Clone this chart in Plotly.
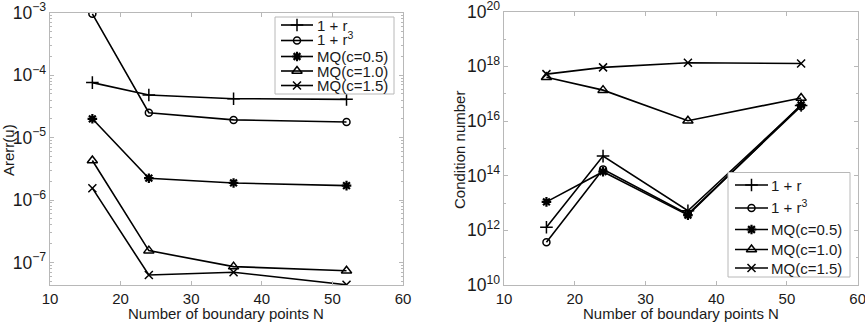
import plotly.graph_objects as go

N = [16, 24, 36, 52]
series_names = ["1 + r", "1 + r<sup>3</sup>", "MQ(c=0.5)", "MQ(c=1.0)", "MQ(c=1.5)"]

# Left: Arerr(u)
err_1r = [7.6e-5, 4.8e-5, 4.2e-5, 4.1e-5]
err_1r3 = [9.6e-4, 2.5e-5, 1.92e-5, 1.78e-5]
err_mq05 = [2.0e-5, 2.24e-6, 1.88e-6, 1.7e-6]
err_mq10 = [4.3e-6, 1.55e-7, 8.6e-8, 7.4e-8]
err_mq15 = [1.55e-6, 6.3e-8, 7.0e-8, 4.4e-8]

# Right: condition number
cond_1r = [1.3e12, 5.2e14, 5.2e12, 3.7e16]
cond_1r3 = [3.7e11, 1.7e14, 3.9e12, 3.5e16]
cond_mq05 = [1.1e13, 1.4e14, 3.6e12, 3.9e16]
cond_mq10 = [4.0e17, 1.35e17, 1.02e16, 7.0e16]
cond_mq15 = [5.2e17, 9.2e17, 1.35e18, 1.28e18]

x_title = "Number of boundary points N"
y_titles = ["Arerr(u)", "Condition number"]

markers = ["cross-thin-open", "circle-open", "asterisk-open", "triangle-up-open", "x-thin-open"]
msizes = [9, 7, 8, 9, 8]
mwidths = [1.5, 1.5, 2.2, 1.5, 1.5]

FONT = "Liberation Sans, Arial, sans-serif"
TXT = "#1a1a1a"
BOX = "#b8b8b8"
W, H = 865, 323

fig = go.Figure()

left = [err_1r, err_1r3, err_mq05, err_mq10, err_mq15]
right = [cond_1r, cond_1r3, cond_mq05, cond_mq10, cond_mq15]


def mk(i):
    return dict(symbol=markers[i], size=msizes[i], color="black",
                line=dict(color="black", width=mwidths[i]))


for i, ys in enumerate(left):
    fig.add_trace(go.Scatter(
        x=N, y=ys, name=series_names[i], mode="lines+markers",
        line=dict(color="black", width=1.6), marker=mk(i),
        xaxis="x", yaxis="y", showlegend=False))

for i, ys in enumerate(right):
    fig.add_trace(go.Scatter(
        x=N, y=ys, name=series_names[i], mode="lines+markers",
        line=dict(color="black", width=1.6), marker=mk(i),
        xaxis="x2", yaxis="y2", showlegend=False))

# Legend boxes (drawn in a pixel-space overlay axis so spacing matches the original)
# box: (left, top, right, bottom), row centres, sample line x0/x1, text x
legend_specs = [
    dict(box=(275, 17, 394, 94), rows=[25, 40.5, 56.5, 71, 85.5],
         line_x=(281, 313), text_x=316),
    dict(box=(728, 172.5, 850, 277), rows=[185, 208, 229.5, 249.5, 268],
         line_x=(735, 768), text_x=770),
]

for spec in legend_specs:
    l, t, r, b = spec["box"]
    fig.add_trace(go.Scatter(
        x=[l, r, r, l, l], y=[t, t, b, b, t], mode="lines", fill="toself",
        fillcolor="white", line=dict(color=BOX, width=1),
        xaxis="x3", yaxis="y3", showlegend=False, hoverinfo="skip"))
    x0, x1 = spec["line_x"]
    for i, yy in enumerate(spec["rows"]):
        fig.add_trace(go.Scatter(
            x=[x0, x1], y=[yy, yy], mode="lines",
            line=dict(color="black", width=1.6),
            xaxis="x3", yaxis="y3", showlegend=False, hoverinfo="skip"))
        fig.add_trace(go.Scatter(
            x=[(x0 + x1) / 2], y=[yy], mode="markers", marker=mk(i),
            xaxis="x3", yaxis="y3", showlegend=False, hoverinfo="skip"))
        shift = -2 if "sup" in series_names[i] else 0
        fig.add_annotation(
            x=spec["text_x"], y=yy + shift, xref="x3", yref="y3",
            text=series_names[i], showarrow=False, xanchor="left",
            yanchor="middle", borderpad=0,
            font=dict(family=FONT, size=15, color=TXT))

# Axis titles placed like the original
for xt, yt, txt in [(8, 150, y_titles[0]), (459, 150, y_titles[1])]:
    fig.add_annotation(
        x=xt, y=yt, xref="x3", yref="y3", text=txt, textangle=-90,
        showarrow=False, xanchor="center", yanchor="middle",
        font=dict(family=FONT, size=15, color=TXT))
for xt in [226, 681]:
    fig.add_annotation(
        x=xt, y=313.5, xref="x3", yref="y3", text=x_title,
        showarrow=False, xanchor="center", yanchor="middle",
        font=dict(family=FONT, size=15, color=TXT))


def px_x(p):
    return p / W


def px_y(p):
    return (H - p) / H


common_axis = dict(
    showline=True, linecolor=BOX, linewidth=1, mirror="allticks",
    ticks="inside", tickcolor=BOX, ticklen=4, showgrid=False, zeroline=False,
    ticklabeloverflow="allow", automargin=False,
)
xtick_font = dict(family=FONT, size=15, color=TXT)
ytick_font = dict(family=FONT, size=14, color=TXT)

fig.update_layout(
    width=W, height=H,
    margin=dict(l=0, r=0, t=0, b=0, autoexpand=False),
    paper_bgcolor="white", plot_bgcolor="rgba(0,0,0,0)",
    font=dict(family=FONT, size=15, color=TXT),
    showlegend=False,
    xaxis=dict(domain=[px_x(50), px_x(403)], range=[10, 60], dtick=10,
               anchor="y", tickfont=xtick_font, **common_axis),
    yaxis=dict(domain=[px_y(285), px_y(12.7)], type="log", range=[-7.36, -3],
               dtick=1, exponentformat="power", showexponent="all",
               minor=dict(ticks="inside", ticklen=2, tickcolor=BOX),
               anchor="x", tickfont=ytick_font, **common_axis),
    xaxis2=dict(domain=[px_x(504), px_x(857.7)], range=[10, 60], dtick=10,
                anchor="y2", tickfont=xtick_font, **common_axis),
    yaxis2=dict(domain=[px_y(285), px_y(11.7)], type="log", range=[10, 20],
                dtick=2, exponentformat="power", showexponent="all",
                minor=dict(ticks="inside", ticklen=2, tickcolor=BOX, dtick=1),
                anchor="x2", tickfont=ytick_font, **common_axis),
    xaxis3=dict(domain=[0, 1], range=[0, W], visible=False, fixedrange=True,
                anchor="y3", automargin=False),
    yaxis3=dict(domain=[0, 1], range=[H, 0], visible=False, fixedrange=True,
                anchor="x3", automargin=False),
)

fig.write_html(
    "out.html",
    config={"displayModeBar": False},
    post_script="document.body.style.margin='0';document.body.style.padding='0';"
                "document.documentElement.style.overflow='hidden';",
)
